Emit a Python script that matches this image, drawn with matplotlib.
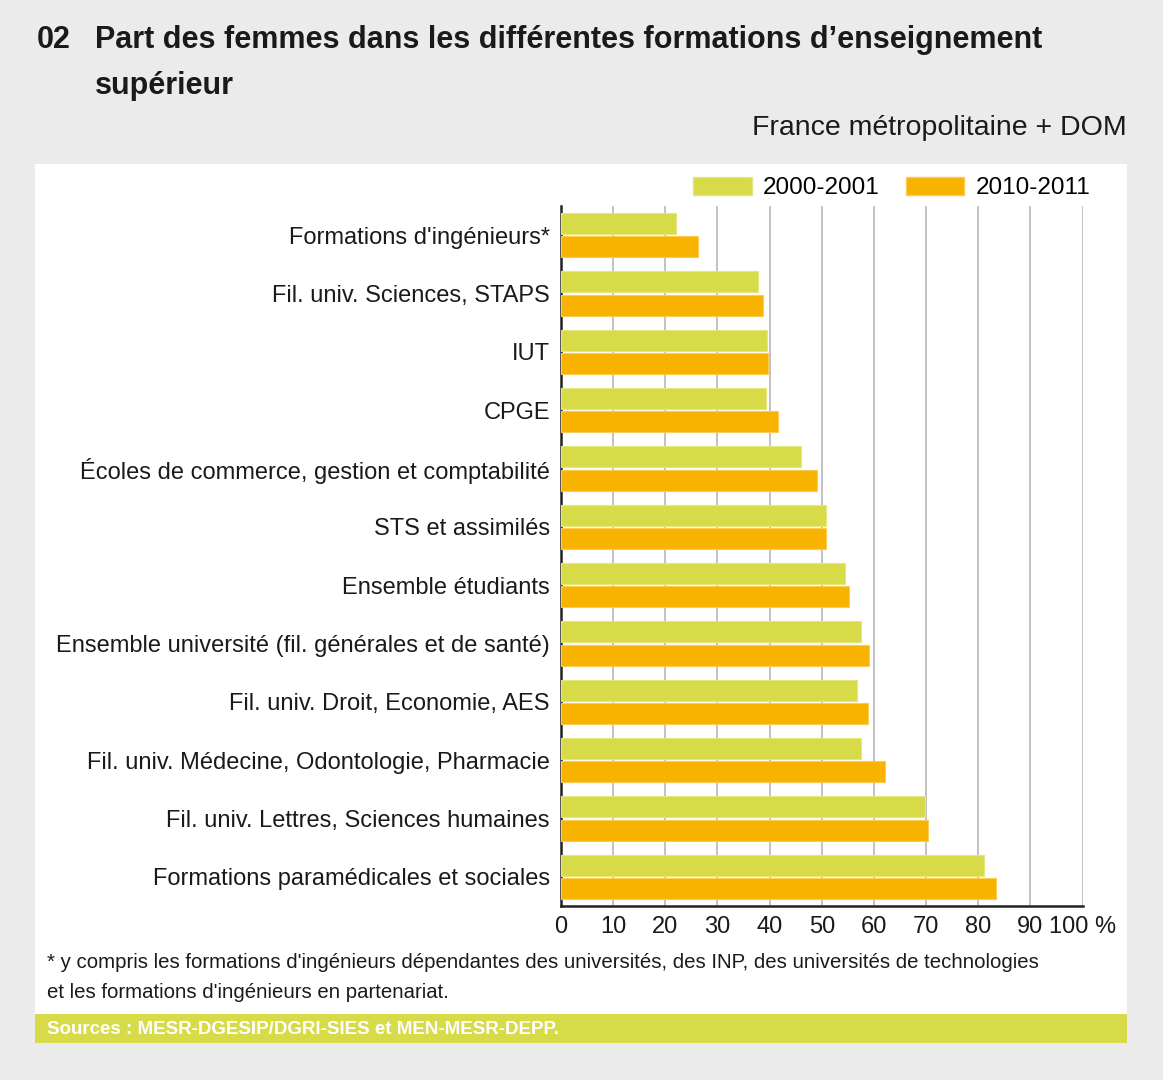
import matplotlib
matplotlib.use("Agg")
import matplotlib.pyplot as plt
from matplotlib.patches import Rectangle, Patch
import numpy as np

# Données (part des femmes, en %)
categories = [
    "Formations d'ingénieurs*",
    "Fil. univ. Sciences, STAPS",
    "IUT",
    "CPGE",
    "Écoles de commerce, gestion et comptabilité",
    "STS et assimilés",
    "Ensemble étudiants",
    "Ensemble université (fil. générales et de santé)",
    "Fil. univ. Droit, Economie, AES",
    "Fil. univ. Médecine, Odontologie, Pharmacie",
    "Fil. univ. Lettres, Sciences humaines",
    "Formations paramédicales et sociales",
]
values_2000 = [22.0, 37.7, 39.5, 39.3, 46.1, 50.8, 54.4, 57.5, 56.8, 57.5, 69.8, 81.1]
values_2010 = [26.3, 38.8, 39.7, 41.7, 49.0, 50.8, 55.3, 59.0, 58.8, 62.1, 70.3, 83.4]
series_labels = ["2000-2001", "2010-2011"]
xticks = [0, 10, 20, 30, 40, 50, 60, 70, 80, 90, 100]
xtick_labels = ["0", "10", "20", "30", "40", "50", "60", "70", "80", "90", "100 %"]

green = "#d8db48"
orange = "#f8b200"
font = ["Liberation Sans", "DejaVu Sans"]
txt = "#1a1a1a"

W, H = 1163, 1080
fig = plt.figure(figsize=(W / 100, H / 100), dpi=100, facecolor="#ebebeb")


def fx(px):
    return px / W


def fy(py):
    return 1 - py / H


# panneau blanc + bandeau des sources
fig.patches.append(Rectangle((fx(34.5), fy(1043)), fx(1127) - fx(34.5), fy(164) - fy(1043),
                             transform=fig.transFigure, facecolor="white", edgecolor="none", zorder=-2))
fig.patches.append(Rectangle((fx(34.5), fy(1043)), fx(1127) - fx(34.5), fy(1014) - fy(1043),
                             transform=fig.transFigure, facecolor=green, edgecolor="none", zorder=-1))

ax = fig.add_axes([fx(561), fy(906), fx(1082.5) - fx(561), fy(206) - fy(906)])
ax.set_zorder(1)
ax.set_facecolor("white")

y = np.arange(len(categories))
ax.barh(y - 0.2, values_2000, height=0.365, color=green, edgecolor="#e4e67f", linewidth=0.8, zorder=3)
ax.barh(y + 0.2, values_2010, height=0.365, color=orange, edgecolor="#fbcc55", linewidth=0.8, zorder=3)

ax.set_xlim(0, 100)
ax.set_ylim(len(categories) - 0.5, -0.5)
ax.set_xticks(xticks)
ax.set_xticklabels(xtick_labels, family=font, fontsize=17, color=txt)
ax.set_yticks(y)
ax.set_yticklabels(categories, family=font, fontsize=17, color=txt)
ax.tick_params(axis="both", length=0)
ax.tick_params(axis="y", pad=8)
ax.tick_params(axis="x", pad=7)
ax.xaxis.grid(True, color="#b8b8b8", linewidth=1.2, zorder=0)
ax.set_axisbelow(True)
for s in ["top", "right"]:
    ax.spines[s].set_visible(False)
ax.spines["left"].set_linewidth(1.8)
ax.spines["bottom"].set_linewidth(1.8)
ax.spines["left"].set_color("#222222")
ax.spines["bottom"].set_color("#222222")

# légende
handles = [Patch(facecolor=green, edgecolor="#e4e67f"), Patch(facecolor=orange, edgecolor="#fbcc55")]
fig.legend(handles, series_labels, loc="center right", bbox_to_anchor=(fx(1112), fy(188)),
           ncol=2, frameon=False, prop={"family": font, "size": 17.5},
           handlelength=2.4, handleheight=0.76, handletextpad=0.45, columnspacing=1.1)

# titres
fig.text(fx(37), fy(40), "02", family=font, fontweight="bold", fontsize=22, va="center", color=txt)
fig.text(fx(95), fy(40), "Part des femmes dans les différentes formations d’enseignement",
         family=font, fontweight="bold", fontsize=22, va="center", color=txt)
fig.text(fx(95), fy(86), "supérieur", family=font, fontweight="bold", fontsize=22, va="center", color=txt)
fig.text(fx(1127), fy(128), "France métropolitaine + DOM", family=font, fontsize=20.5,
         ha="right", va="center", color=txt)

# notes
fig.text(fx(47), fy(963), "* y compris les formations d'ingénieurs dépendantes des universités, des INP, des universités de technologies",
         family=font, fontsize=14.7, va="center", color=txt)
fig.text(fx(47), fy(992), "et les formations d'ingénieurs en partenariat.",
         family=font, fontsize=14.7, va="center", color=txt)
fig.text(fx(47), fy(1030), "Sources : MESR-DGESIP/DGRI-SIES et MEN-MESR-DEPP.",
         family=font, fontweight="bold", fontsize=13.5, va="center", color="white")

fig.savefig("out.png", dpi=100, facecolor=fig.get_facecolor())
